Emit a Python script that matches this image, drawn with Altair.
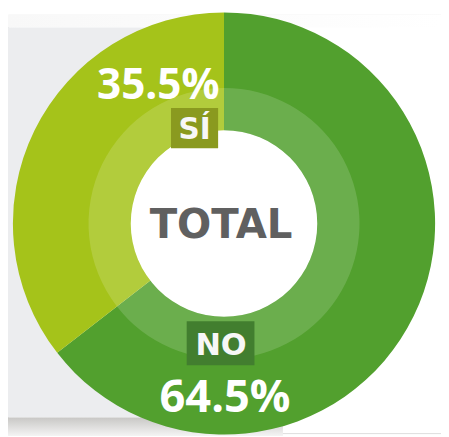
import altair as alt
import pandas as pd

categories = ["NO", "SÍ"]
values = [64.5, 35.5]
center_title = ["TOTAL"]

df = pd.DataFrame({"category": categories, "value": values})

W, H = 441, 429
CX, CY = 220, 212.5

base = alt.Chart(df)

color_scale = alt.Scale(domain=categories, range=["#52A02E", "#A5C31A"])

# background panel and shadow
bg = alt.Chart(pd.DataFrame({"k": [0]}))
panel = bg.mark_rect(color="#ECEDEF").encode(
    x=alt.value(0), x2=alt.value(220), y=alt.value(13), y2=alt.value(410)
)
topgrad = bg.mark_rect(
    color=alt.LinearGradient(
        gradient="linear", x1=0, y1=0, x2=1, y2=0,
        stops=[alt.GradientStop(color="#F8F8F8", offset=0),
               alt.GradientStop(color="#FFFFFF", offset=1)],
    )
).encode(x=alt.value(0), x2=alt.value(441), y=alt.value(0), y2=alt.value(13))
shadow = bg.mark_rect(
    color=alt.LinearGradient(
        gradient="linear", x1=0, y1=0, x2=0, y2=1,
        stops=[alt.GradientStop(color="#C8C7C5", offset=0),
               alt.GradientStop(color="#F4F4F4", offset=1)],
    )
).encode(x=alt.value(0), x2=alt.value(280), y=alt.value(410), y2=alt.value(429))

theta = alt.Theta("value:Q", stack=True)
order = alt.Order("category:N", sort="ascending")

outer = base.mark_arc(outerRadius=215, innerRadius=0).encode(
    theta=theta, order=order,
    color=alt.Color("category:N", scale=color_scale, legend=None),
    x=alt.value(CX), y=alt.value(CY),
)
ring = base.mark_arc(outerRadius=138, innerRadius=95, fill="white", fillOpacity=0.15).encode(
    theta=theta, order=order, x=alt.value(CX), y=alt.value(CY),
)
hole = alt.Chart(pd.DataFrame({"t": center_title})).mark_arc(
    outerRadius=95, innerRadius=0, fill="white"
).encode(theta=alt.value(6.2832), x=alt.value(CX), y=alt.value(CY))

si_box = base.transform_filter(alt.datum.category == "SÍ").mark_rect(color="#8A9A1F").encode(
    x=alt.value(166), x2=alt.value(214), y=alt.value(95), y2=alt.value(136)
)
no_box = base.transform_filter(alt.datum.category == "NO").mark_rect(color="#427E2F").encode(
    x=alt.value(182), x2=alt.value(251), y=alt.value(312), y2=alt.value(357)
)

FONT = "Open Sans"
FONT2 = "DejaVu Sans"

def pct_text(cat, x, y, size):
    return base.transform_filter(alt.datum.category == cat).transform_calculate(
        lbl="format(datum.value, '.1f') + '%'"
    ).mark_text(
        font=FONT, fontWeight="bold", fontSize=size, color="white",
        align="center", baseline="alphabetic",
    ).encode(text="lbl:N", x=alt.value(x), y=alt.value(y))

def cat_text(cat, x, y, size):
    return base.transform_filter(alt.datum.category == cat).mark_text(
        font=FONT2, fontWeight="bold", fontSize=size, color="#F7F7F7",
        align="center", baseline="alphabetic",
    ).encode(text="category:N", x=alt.value(x), y=alt.value(y))

total = alt.Chart(pd.DataFrame({"t": center_title})).mark_text(
    font=FONT2, fontWeight="bold", fontSize=41, color="#606060",
    align="center", baseline="alphabetic",
).encode(text="t:N", x=alt.value(217), y=alt.value(227))

chart = alt.layer(
    topgrad, panel, shadow, outer, ring, hole,
    si_box, no_box,
    pct_text("SÍ", 153, 86, 43), cat_text("SÍ", 190, 126, 30),
    cat_text("NO", 217, 346, 31), pct_text("NO", 221, 404, 46),
    total,
).properties(
    width=W, height=H,
    autosize=alt.AutoSizeParams(type="fit", contains="padding"),
    padding=0,
).configure_view(stroke=None).configure(background="white")

chart.save("out.html", embed_options={"renderer": "svg", "actions": False})
